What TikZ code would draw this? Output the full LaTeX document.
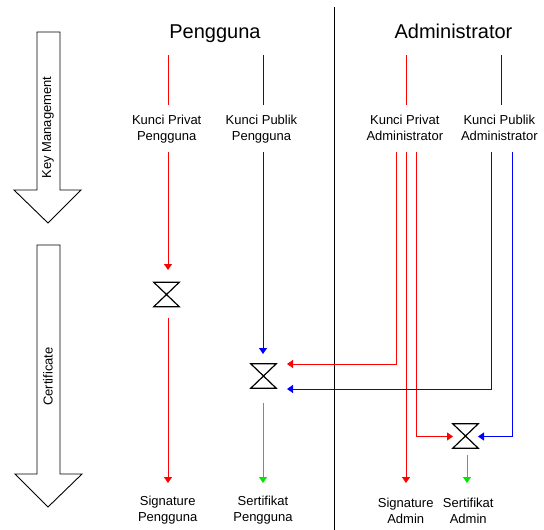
\documentclass[tikz,border=0pt]{standalone}
\usepackage{fontspec}
\setmainfont{Liberation Sans}
\usetikzlibrary{arrows.meta}
\definecolor{wred}{RGB}{255,0,0}
\definecolor{wblue}{RGB}{0,0,255}
\definecolor{wgreen}{RGB}{0,230,0}
\tikzset{
  lbl/.style={font=\fontsize{13}{16}\selectfont, align=center, inner sep=0pt},
  ttl/.style={font=\fontsize{20}{24}\selectfont, inner sep=0pt, anchor=base},
  vlbl/.style={font=\fontsize{13}{16}\selectfont, inner sep=0pt, rotate=90},
  wire/.style={line width=1pt},
  tipped/.style={wire, -{Triangle[width=8pt,length=6pt]}},
  hg/.style={minimum width=25pt, minimum height=24pt, inner sep=0pt},
  hgline/.style={line width=1.2pt, line join=miter},
  bigarrow/.style={draw=black, line width=0.9pt, fill=white},
}
\begin{document}
\begin{tikzpicture}[x=1pt,y=-1pt]
\useasboundingbox (0,0) rectangle (544,530);

% big phase arrows
\draw[bigarrow] (37,32) -- (60,32) -- (60,190) -- (81,190) -- (48,223) -- (14,190) -- (37,190) -- cycle;
\draw[bigarrow] (37,245) -- (60,245) -- (60,474) -- (82,474) -- (48,507) -- (15,474) -- (37,474) -- cycle;
\node[vlbl] (km) at (48,127.5) {Key Management};
\node[vlbl] (cert) at (48,376.5) {Certificate};

% divider
\coordinate (divtop) at (334,7);
\coordinate (divbot) at (334,530);
\draw[line width=1pt] (divtop) -- (divbot);

% titles
\node[ttl] (tp) at (215,38) {Pengguna};
\node[ttl] (ta) at (453.5,38) {Administrator};

% key labels
\node[lbl] (kpp) at (166.7,129) {Kunci Privat\\Pengguna};
\node[lbl] (kbp) at (261.5,129) {Kunci Publik\\Pengguna};
\node[lbl] (kpa) at (404.8,127.7) {Kunci Privat\\Administrator};
\node[lbl] (kba) at (499.3,127.7) {Kunci Publik\\Administrator};

% result labels
\node[lbl] (sigp) at (167.7,510.6) {Signature\\Pengguna};
\node[lbl] (serp) at (263,510.6) {Sertifikat\\Pengguna};
\node[lbl] (siga) at (405.7,510.8) {Signature\\Admin};
\node[lbl] (sera) at (468.2,510.8) {Sertifikat\\Admin};

% hourglass operators
\node[hg] (h1) at (166.5,294.5) {};
\node[hg] (h2) at (263.5,376) {};
\node[hg] (h3) at (465.5,436) {};
\foreach \h in {h1,h2,h3}
  \draw[hgline] (\h.north west) -- (\h.north east) -- (\h.south west) -- (\h.south east) -- cycle;

% coordinates of wire ends
\coordinate (pp0) at (168,55);   \coordinate (pp1) at (168,105);
\coordinate (pp2) at (168,152);  \coordinate (pp3) at (168,270);
\coordinate (pp4) at (168,318);  \coordinate (pp5) at (168,483);
\coordinate (bp0) at (263,55);   \coordinate (bp1) at (263,105);
\coordinate (bp2) at (263,152);  \coordinate (bp3) at (263,354);
\coordinate (gp0) at (263,403);  \coordinate (gp1) at (263,483);
\coordinate (pa0) at (406,55);   \coordinate (pa1) at (406,105);
\coordinate (paL) at (396,152);  \coordinate (paLe) at (287,364);
\coordinate (paM) at (406,152);  \coordinate (paMe) at (406,483);
\coordinate (paR) at (416,152);  \coordinate (paRe) at (453,436.5);
\coordinate (ba0) at (501,55);   \coordinate (ba1) at (501,105);
\coordinate (baL) at (491,152);  \coordinate (baLe) at (287,389);
\coordinate (baR) at (512,152);  \coordinate (baRe) at (478,436.5);
\coordinate (ga0) at (467,455);  \coordinate (ga1) at (467,483);

% Pengguna wires
\draw[wire, wred] (pp0) -- (pp1);
\draw[tipped, wred] (pp2) -- (pp3);
\draw[tipped, wred] (pp4) -- (pp5);
\draw[wire, wblue] (bp0) -- (bp1);
\draw[tipped, wblue] (bp2) -- (bp3);
\draw[tipped, wgreen] (gp0) -- (gp1);

% Administrator wires
\draw[wire, wred] (pa0) -- (pa1);
\draw[tipped, wred] (paL) |- (paLe);
\draw[tipped, wred] (paM) -- (paMe);
\draw[tipped, wred] (paR) |- (paRe);
\draw[wire, wblue] (ba0) -- (ba1);
\draw[tipped, wblue] (baL) |- (baLe);
\draw[tipped, wblue] (baR) |- (baRe);
\draw[tipped, wgreen] (ga0) -- (ga1);
\end{tikzpicture}
\end{document}
